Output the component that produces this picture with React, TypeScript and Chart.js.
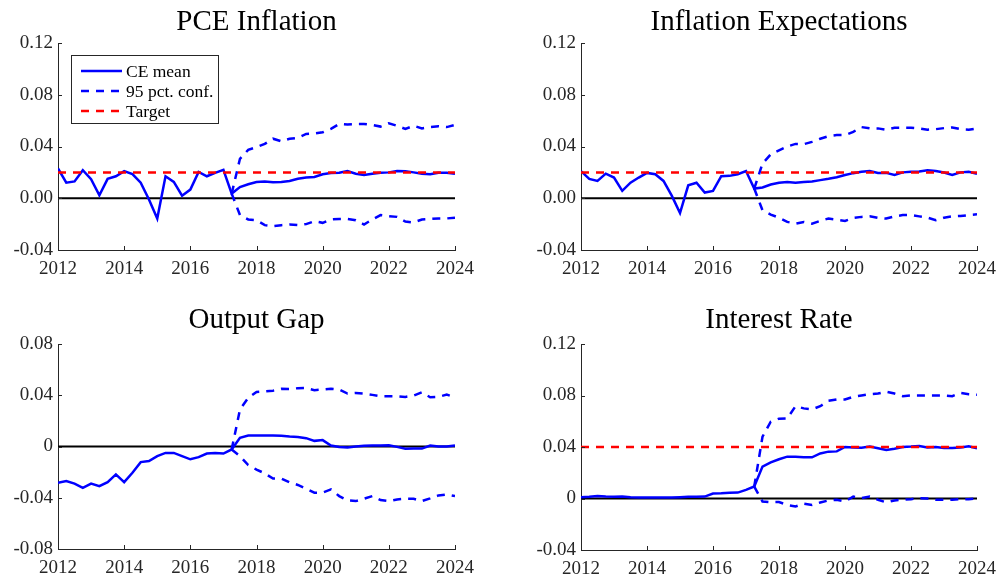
import React, { useEffect, useRef } from 'react';
import { Chart, registerables } from 'chart.js';

Chart.register(...registerables);

// ---------------- DATA ----------------
const START_YEAR = 2012;          // first quarter of the sample (2012Q1)
const BAND_START_INDEX = 21;      // 2017Q2, where the 95% bands start
const X_TICKS = [2012, 2014, 2016, 2018, 2020, 2022, 2024];

const PCE_Y_TICKS = [-0.04, 0, 0.04, 0.08, 0.12];
const PCE_Y_LABELS = ['-0.04', '0.00', '0.04', '0.08', '0.12'];
const EXP_Y_TICKS = [-0.04, 0, 0.04, 0.08, 0.12];
const EXP_Y_LABELS = ['-0.04', '0.00', '0.04', '0.08', '0.12'];
const GAP_Y_TICKS = [-0.08, -0.04, 0, 0.04, 0.08];
const GAP_Y_LABELS = ['-0.08', '-0.04', '0', '0.04', '0.08'];
const RATE_Y_TICKS = [-0.04, 0, 0.04, 0.08, 0.12];
const RATE_Y_LABELS = ['-0.04', '0', '0.04', '0.08', '0.12'];

const pceMean = [
  0.023, 0.012, 0.013, 0.0217,
  0.0147, 0.0023, 0.015, 0.017,
  0.021, 0.0186, 0.012, -0.001,
  -0.0157, 0.017, 0.0126, 0.002,
  0.0067, 0.0204, 0.017, 0.0196,
  0.022, 0.0036, 0.0087, 0.0108,
  0.0126, 0.013, 0.0123, 0.0126,
  0.0133, 0.015, 0.016, 0.0164,
  0.0185, 0.0195, 0.0197, 0.021,
  0.019, 0.018, 0.019, 0.0197,
  0.02, 0.021, 0.0208, 0.02,
  0.019, 0.0185, 0.0197, 0.0197,
  0.019,
];
const pceUpper = [
  0.0036, 0.0305, 0.0374, 0.0395, 0.042, 0.046, 0.044, 0.046, 0.0467, 0.0497,
  0.05, 0.051, 0.0536, 0.0574, 0.057, 0.0574, 0.0574, 0.0567, 0.0554, 0.058,
  0.056, 0.0536, 0.056, 0.054, 0.055, 0.0556, 0.055, 0.0567,
];
const pceLower = [
  0.0036, -0.013, -0.0164, -0.017, -0.0208, -0.0215, -0.0208, -0.0203, -0.0208, -0.02,
  -0.0177, -0.019, -0.0164, -0.016, -0.016, -0.017, -0.0203, -0.0164, -0.013, -0.0138,
  -0.0144, -0.018, -0.0187, -0.0164, -0.016, -0.0156, -0.0156, -0.015,
];
const pceTarget = 0.02;

const expMean = [
  0.021, 0.015, 0.0134, 0.019,
  0.016, 0.0057, 0.012, 0.016,
  0.0196, 0.0186, 0.0134, 0.002,
  -0.0114, 0.01, 0.012, 0.0044,
  0.0057, 0.017, 0.0173, 0.0186,
  0.021, 0.0075, 0.0083, 0.0106,
  0.012, 0.0126, 0.012, 0.0126,
  0.013, 0.014, 0.015, 0.0163,
  0.018, 0.0194, 0.0204, 0.021,
  0.0196, 0.0196, 0.018, 0.02,
  0.0204, 0.0206, 0.0217, 0.021,
  0.0199, 0.018, 0.02, 0.0204,
  0.019,
];
const expUpper = [
  0.0075, 0.0268, 0.034, 0.037, 0.04, 0.042, 0.0418, 0.0436, 0.046, 0.048,
  0.0488, 0.0488, 0.0513, 0.055, 0.054, 0.054, 0.053, 0.0545, 0.0545, 0.0545,
  0.054, 0.053, 0.0534, 0.0542, 0.0547, 0.0534, 0.053, 0.054,
];
const expLower = [
  0.0075, -0.0093, -0.0126, -0.015, -0.0183, -0.0196, -0.0183, -0.0196, -0.0175, -0.0157,
  -0.0165, -0.0175, -0.0152, -0.0144, -0.014, -0.0152, -0.0157, -0.014, -0.013, -0.013,
  -0.014, -0.015, -0.017, -0.015, -0.014, -0.0137, -0.013, -0.0124,
];
const expTarget = 0.02;

const gapMean = [
  -0.0283, -0.027, -0.029, -0.0322,
  -0.029, -0.031, -0.0278, -0.0218,
  -0.0278, -0.0205, -0.0122, -0.0114,
  -0.0075, -0.005, -0.005, -0.0075,
  -0.01, -0.0083, -0.0055, -0.005,
  -0.0055, -0.0023, 0.0068, 0.0086,
  0.0086, 0.0086, 0.0086, 0.0083,
  0.0078, 0.0075, 0.0065, 0.0044,
  0.005, 0.0008, -0.0003, -0.0008,
  0.0, 0.0005, 0.0008, 0.0008,
  0.001, -0.0003, -0.0018, -0.0016,
  -0.0016, 0.0008, 0.0, 0.0,
  0.0008,
];
const gapUpper = [
  -0.0023, 0.0288, 0.038, 0.0426, 0.043, 0.0436, 0.045, 0.0449, 0.0455, 0.0457,
  0.044, 0.0444, 0.045, 0.0444, 0.0413, 0.0418, 0.0413, 0.0403, 0.0392, 0.0392,
  0.0392, 0.0387, 0.0397, 0.0423, 0.0384, 0.0387, 0.0405, 0.0384,
];
const gapLower = [
  -0.0023, -0.0075, -0.0145, -0.018, -0.021, -0.025, -0.025, -0.028, -0.03, -0.033,
  -0.036, -0.036, -0.0335, -0.0387, -0.042, -0.0426, -0.0408, -0.0387, -0.0418, -0.0426,
  -0.0413, -0.0408, -0.0408, -0.0426, -0.0405, -0.0382, -0.0374, -0.0387,
];

const rateMean = [
  0.001, 0.0013, 0.002, 0.0015,
  0.0013, 0.0015, 0.001, 0.0008,
  0.0008, 0.0008, 0.0008, 0.0008,
  0.001, 0.0013, 0.0013, 0.0015,
  0.0039, 0.004, 0.0044, 0.0046,
  0.0067, 0.0093, 0.0248, 0.028,
  0.0305, 0.0325, 0.0325, 0.032,
  0.032, 0.035, 0.0364, 0.0366,
  0.04, 0.0397, 0.0395, 0.0403,
  0.039, 0.0377, 0.0387, 0.04,
  0.0403, 0.0408, 0.0397, 0.04,
  0.0392, 0.0392, 0.0397, 0.0405,
  0.039,
];
const rateUpper = [
  0.0093, 0.048, 0.0596, 0.062, 0.0622, 0.0717, 0.07, 0.0692, 0.0717, 0.0759,
  0.0769, 0.0769, 0.079, 0.08, 0.081, 0.0815, 0.083, 0.0815, 0.0795, 0.08,
  0.08, 0.08, 0.08, 0.08, 0.0795, 0.082, 0.081, 0.0805,
];
const rateLower = [
  0.0093, -0.0023, -0.0028, -0.0028, -0.005, -0.0062, -0.004, -0.005, -0.0031, -0.0015,
  -0.001, -0.0023, 0.0015, 0.0003, 0.0015, -0.001, -0.003, -0.0015, -0.001, -0.0005,
  0.0003, 0.0, -0.001, -0.001, -0.001, -0.0005, -0.0005, 0.0,
];
const rateTarget = 0.04;

const LEGEND_LABELS = ['CE mean', '95 pct. conf.', 'Target'];

// ---------------- STYLE ----------------
const FONT = '"Liberation Serif", "Times New Roman", Times, serif';
const AXIS_COLOR = '#262626';
const BLUE = '#0000ff';
const RED = '#ff0000';
const DASH = [8, 7];
const LW = 2.5;

const quarterX = (i: number) => START_YEAR + i / 4;
const toPoints = (vals: number[], offset = 0) =>
  vals.map((v, i) => ({ x: quarterX(i + offset), y: v }));
const flatLine = (v: number) => [
  { x: X_TICKS[0], y: v },
  { x: X_TICKS[X_TICKS.length - 1], y: v },
];

type PanelCfg = {
  title: string;
  mean: number[];
  upper: number[];
  lower: number[];
  target: number | null;
  yTicks: number[];
  yLabels: string[];
  legend: boolean;
  canvas: { left: number; top: number; w: number; h: number };
  area: { left: number; top: number; right: number; bottom: number };
  titleCenter: number;
};

const inwardTicks = {
  id: 'inwardTicks',
  afterDatasetsDraw(chart: any) {
    const { ctx, chartArea } = chart;
    const xs = chart.scales.x;
    const ys = chart.scales.y;
    ctx.save();
    ctx.strokeStyle = AXIS_COLOR;
    ctx.lineWidth = 1;
    ctx.beginPath();
    xs.ticks.forEach((t: any) => {
      const px = Math.round(xs.getPixelForValue(t.value)) + 0.5;
      ctx.moveTo(px, chartArea.bottom);
      ctx.lineTo(px, chartArea.bottom - 4);
    });
    ys.ticks.forEach((t: any) => {
      const py = Math.round(ys.getPixelForValue(t.value)) + 0.5;
      ctx.moveTo(chartArea.left, py);
      ctx.lineTo(chartArea.left + 4, py);
    });
    ctx.stroke();
    ctx.restore();
  },
};

const boxLegend = {
  id: 'boxLegend',
  afterDraw(chart: any, _args: any, opts: any) {
    if (!opts || !opts.show) return;
    const { ctx, chartArea } = chart;
    const bx = chartArea.left + 13;
    const by = chartArea.top + 12;
    const bw = 147;
    const bh = 68;
    ctx.save();
    ctx.fillStyle = '#ffffff';
    ctx.fillRect(bx, by, bw, bh);
    ctx.strokeStyle = AXIS_COLOR;
    ctx.lineWidth = 1;
    ctx.strokeRect(Math.round(bx) + 0.5, Math.round(by) + 0.5, bw, bh);
    const items = [
      { color: BLUE, dash: [] as number[] },
      { color: BLUE, dash: DASH },
      { color: RED, dash: DASH },
    ];
    ctx.font = `17.5px ${FONT}`;
    ctx.textBaseline = 'middle';
    ctx.textAlign = 'left';
    items.forEach((it, i) => {
      const y = by + 16 + i * 20;
      ctx.strokeStyle = it.color;
      ctx.lineWidth = LW;
      ctx.setLineDash(it.dash);
      ctx.beginPath();
      ctx.moveTo(bx + 10, y);
      ctx.lineTo(bx + 51, y);
      ctx.stroke();
      ctx.setLineDash([]);
      ctx.fillStyle = '#000000';
      ctx.fillText(LEGEND_LABELS[i], bx + 55, y + 1);
    });
    ctx.restore();
  },
};

function Panel({ cfg }: { cfg: PanelCfg }) {
  const ref = useRef<HTMLCanvasElement>(null);
  useEffect(() => {
    if (!ref.current) return;
    const { canvas, area } = cfg;
    const titleSize = 29;
    const titleLH = titleSize * 1.2;
    const titleBox = area.top - canvas.top;
    const padTop = cfg.titleCenter - canvas.top - titleLH / 2;
    const padBottom = titleBox - titleLH - padTop;

    const datasets: any[] = [];
    if (cfg.target !== null) {
      datasets.push({
        label: 'Target',
        data: flatLine(cfg.target),
        borderColor: RED,
        borderWidth: LW,
        borderDash: DASH,
        pointRadius: 0,
        fill: false,
      });
    }
    datasets.push(
      {
        label: '95 pct. conf.',
        data: toPoints(cfg.upper, BAND_START_INDEX),
        borderColor: BLUE,
        borderWidth: LW,
        borderDash: DASH,
        pointRadius: 0,
        fill: false,
      },
      {
        label: '95 pct. conf. (lower)',
        data: toPoints(cfg.lower, BAND_START_INDEX),
        borderColor: BLUE,
        borderWidth: LW,
        borderDash: DASH,
        pointRadius: 0,
        fill: false,
      },
      {
        label: 'CE mean',
        data: toPoints(cfg.mean),
        borderColor: BLUE,
        borderWidth: LW,
        pointRadius: 0,
        fill: false,
      },
      {
        label: 'Zero',
        data: flatLine(0),
        borderColor: '#000000',
        borderWidth: 2,
        pointRadius: 0,
        fill: false,
      }
    );

    const chart = new Chart(ref.current, {
      type: 'line',
      data: { datasets },
      options: {
        responsive: false,
        animation: false,
        events: [],
        layout: {
          padding: {
            left: 0,
            top: 0,
            bottom: 0,
            right: canvas.left + canvas.w - area.right,
          },
        },
        plugins: {
          legend: { display: false },
          tooltip: { enabled: false },
          title: {
            display: true,
            text: cfg.title,
            fullSize: false,
            color: '#000000',
            font: { family: FONT, size: titleSize, weight: 'normal', lineHeight: 1.2 },
            padding: { top: padTop, bottom: padBottom },
          },
          boxLegend: { show: cfg.legend },
        } as any,
        scales: {
          x: {
            type: 'linear',
            min: X_TICKS[0],
            max: X_TICKS[X_TICKS.length - 1],
            afterBuildTicks: (s: any) => {
              s.ticks = X_TICKS.map((v) => ({ value: v }));
            },
            afterFit: (s: any) => {
              s.height = canvas.top + canvas.h - area.bottom;
              s.paddingLeft = 0;
              s.paddingRight = 0;
            },
            grid: { display: true, drawOnChartArea: false, drawTicks: false },
            border: { display: true, color: AXIS_COLOR, width: 1 },
            ticks: {
              color: AXIS_COLOR,
              padding: 8,
              maxRotation: 0,
              autoSkip: false,
              font: { family: FONT, size: 19 },
              callback: (v: any) => String(v),
            },
          },
          y: {
            type: 'linear',
            min: cfg.yTicks[0],
            max: cfg.yTicks[cfg.yTicks.length - 1],
            afterBuildTicks: (s: any) => {
              s.ticks = cfg.yTicks.map((v) => ({ value: v }));
            },
            afterFit: (s: any) => {
              s.width = area.left - canvas.left;
              s.paddingTop = 0;
              s.paddingBottom = 0;
            },
            grid: { display: true, drawOnChartArea: false, drawTicks: false },
            border: { display: true, color: AXIS_COLOR, width: 1 },
            ticks: {
              color: AXIS_COLOR,
              padding: 5,
              autoSkip: false,
              font: { family: FONT, size: 19 },
              callback: (v: any) => {
                const idx = cfg.yTicks.findIndex((t) => Math.abs(t - Number(v)) < 1e-9);
                return idx >= 0 ? cfg.yLabels[idx] : '';
              },
            },
          },
        },
      },
      plugins: [inwardTicks, boxLegend],
    } as any);
    return () => chart.destroy();
  }, [cfg]);

  return (
    <canvas
      ref={ref}
      width={cfg.canvas.w}
      height={cfg.canvas.h}
      style={{
        position: 'absolute',
        left: cfg.canvas.left,
        top: cfg.canvas.top,
        width: cfg.canvas.w,
        height: cfg.canvas.h,
      }}
    />
  );
}

const PANELS: PanelCfg[] = [
  {
    title: 'PCE Inflation',
    mean: pceMean,
    upper: pceUpper,
    lower: pceLower,
    target: pceTarget,
    yTicks: PCE_Y_TICKS,
    yLabels: PCE_Y_LABELS,
    legend: true,
    canvas: { left: 0, top: 0, w: 499, h: 290 },
    area: { left: 58, top: 43, right: 455, bottom: 250 },
    titleCenter: 22,
  },
  {
    title: 'Inflation Expectations',
    mean: expMean,
    upper: expUpper,
    lower: expLower,
    target: expTarget,
    yTicks: EXP_Y_TICKS,
    yLabels: EXP_Y_LABELS,
    legend: false,
    canvas: { left: 499, top: 0, w: 499, h: 290 },
    area: { left: 581, top: 43, right: 977, bottom: 250 },
    titleCenter: 22,
  },
  {
    title: 'Output Gap',
    mean: gapMean,
    upper: gapUpper,
    lower: gapLower,
    target: null,
    yTicks: GAP_Y_TICKS,
    yLabels: GAP_Y_LABELS,
    legend: false,
    canvas: { left: 0, top: 290, w: 499, h: 290 },
    area: { left: 58, top: 344, right: 455, bottom: 549 },
    titleCenter: 320.5,
  },
  {
    title: 'Interest Rate',
    mean: rateMean,
    upper: rateUpper,
    lower: rateLower,
    target: rateTarget,
    yTicks: RATE_Y_TICKS,
    yLabels: RATE_Y_LABELS,
    legend: false,
    canvas: { left: 499, top: 290, w: 499, h: 290 },
    area: { left: 581, top: 344, right: 977, bottom: 550 },
    titleCenter: 320.5,
  },
];

export default function App() {
  return (
    <div
      style={{
        position: 'absolute',
        left: 0,
        top: 0,
        width: 998,
        height: 580,
        background: '#ffffff',
        overflow: 'hidden',
      }}
    >
      {PANELS.map((p) => (
        <Panel key={p.title} cfg={p} />
      ))}
    </div>
  );
}
